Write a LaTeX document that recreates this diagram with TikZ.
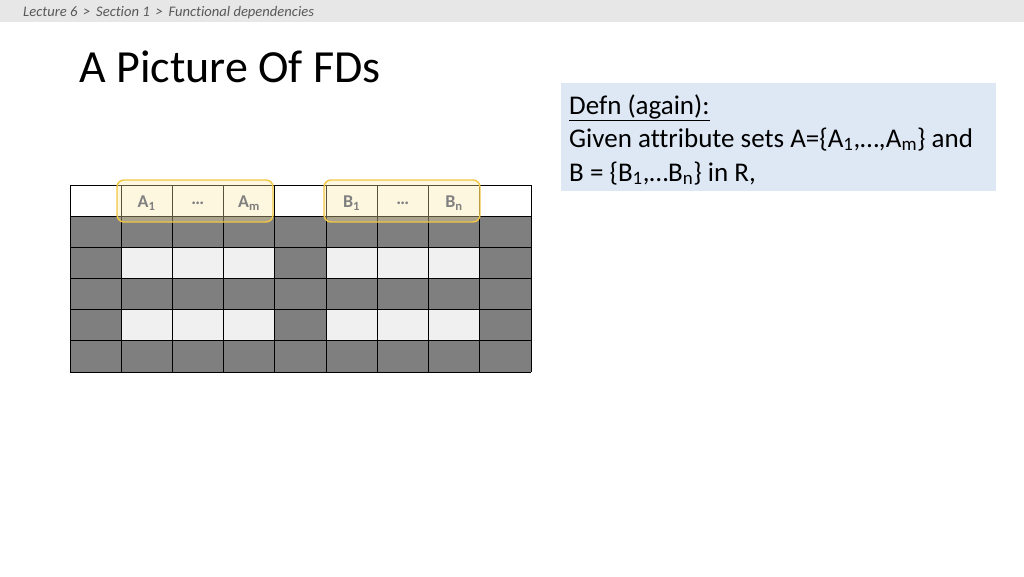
\documentclass[tikz,border=0pt]{standalone}
\usepackage{fontspec}
\setmainfont[Ligatures={NoCommon}]{Carlito}
\usetikzlibrary{calc}
\definecolor{cellgray}{HTML}{7F7F7F}
\definecolor{celllight}{HTML}{F0F0F0}
\definecolor{barbg}{HTML}{E7E7E7}
\definecolor{bartext}{HTML}{595959}
\definecolor{defnbg}{HTML}{DEE8F5}
\definecolor{hlborder}{HTML}{F2C744}
\definecolor{hlfill}{HTML}{FBE9A8}
\definecolor{hdrtext}{HTML}{808080}
\tikzset{
  hdrlabel/.style={font=\fontsize{18}{20}\selectfont\bfseries, text=hdrtext, inner sep=0pt},
  hlbox/.style={fill=hlfill, fill opacity=0.35, rounded corners=7pt},
  hlline/.style={draw=hlborder, line width=1.4pt, rounded corners=7pt},
  defntext/.style={anchor=base west, inner sep=0pt, font=\fontsize{27}{33}\selectfont},
}
\begin{document}
\begin{tikzpicture}[x=1pt,y=-1pt]
\useasboundingbox (0,0) rectangle (1024,576);
\fill[white] (0,0) rectangle (1024,576);
% top bar
\fill[barbg] (0,0) rectangle (1024,22);
\node[anchor=base west, inner sep=0pt, text=bartext, font=\fontsize{14.6}{16}\selectfont\itshape] (crumb) at (23,16) {Lecture 6 \,>\, Section 1 \,>\, Functional dependencies};
% title
\node[anchor=base west, inner sep=0pt, font=\fontsize{46}{50}\selectfont] (title) at (79,82) {A Picture Of FDs};
% definition box
\fill[defnbg] (561,83) rectangle (996,191);
\node[defntext] (defn) at (569,114) {\underline{Defn (again):}};
\node[defntext] (given) at (569,147)
  {Given attribute sets A=\{A\textsubscript{1},…,A\textsubscript{m}\} and};
\node[defntext] (bset) at (569,181)
  {B = \{B\textsubscript{1},…B\textsubscript{n}\} in R,};
% grid
\def\cw{51.222}
\def\rh{31.17}
\foreach \r in {1,...,5}{
  \foreach \c in {0,...,8}{
    \pgfmathsetmacro{\xa}{70+\c*\cw}
    \pgfmathsetmacro{\ya}{185+\r*\rh}
    \pgfmathtruncatemacro{\isl}{(mod(\r,2)==0) && (\c!=0) && (\c!=4) && (\c!=8) ? 1 : 0}
    \ifnum\isl=1
      \fill[celllight] (\xa,\ya) rectangle ++(\cw,\rh);
    \else
      \fill[cellgray] (\xa,\ya) rectangle ++(\cw,\rh);
    \fi
  }
}
\foreach \c in {0,...,9}{
  \draw[line width=0.9pt] ({70+\c*\cw},185) -- ({70+\c*\cw},372);
}
\foreach \r in {0,...,6}{
  \draw[line width=0.9pt] (70,{185+\r*\rh}) -- (531,{185+\r*\rh});
}
% highlight boxes
\fill[hlbox] (117,180) rectangle (273,222);
\fill[hlbox] (324,180) rectangle (480,222);
\draw[hlline] (117,180) rectangle (273,222);
\draw[hlline] (324,180) rectangle (480,222);
% header labels
\node[hdrlabel] (a1) at (146.6,203) {A\textsubscript{1}};
\node[hdrlabel] (adots) at (197.8,203) {…};
\node[hdrlabel] (am) at (249.0,203) {A\textsubscript{m}};
\node[hdrlabel] (b1) at (351.5,203) {B\textsubscript{1}};
\node[hdrlabel] (bdots) at (402.7,203) {…};
\node[hdrlabel] (bn) at (454.0,203) {B\textsubscript{n}};
\end{tikzpicture}
\end{document}
